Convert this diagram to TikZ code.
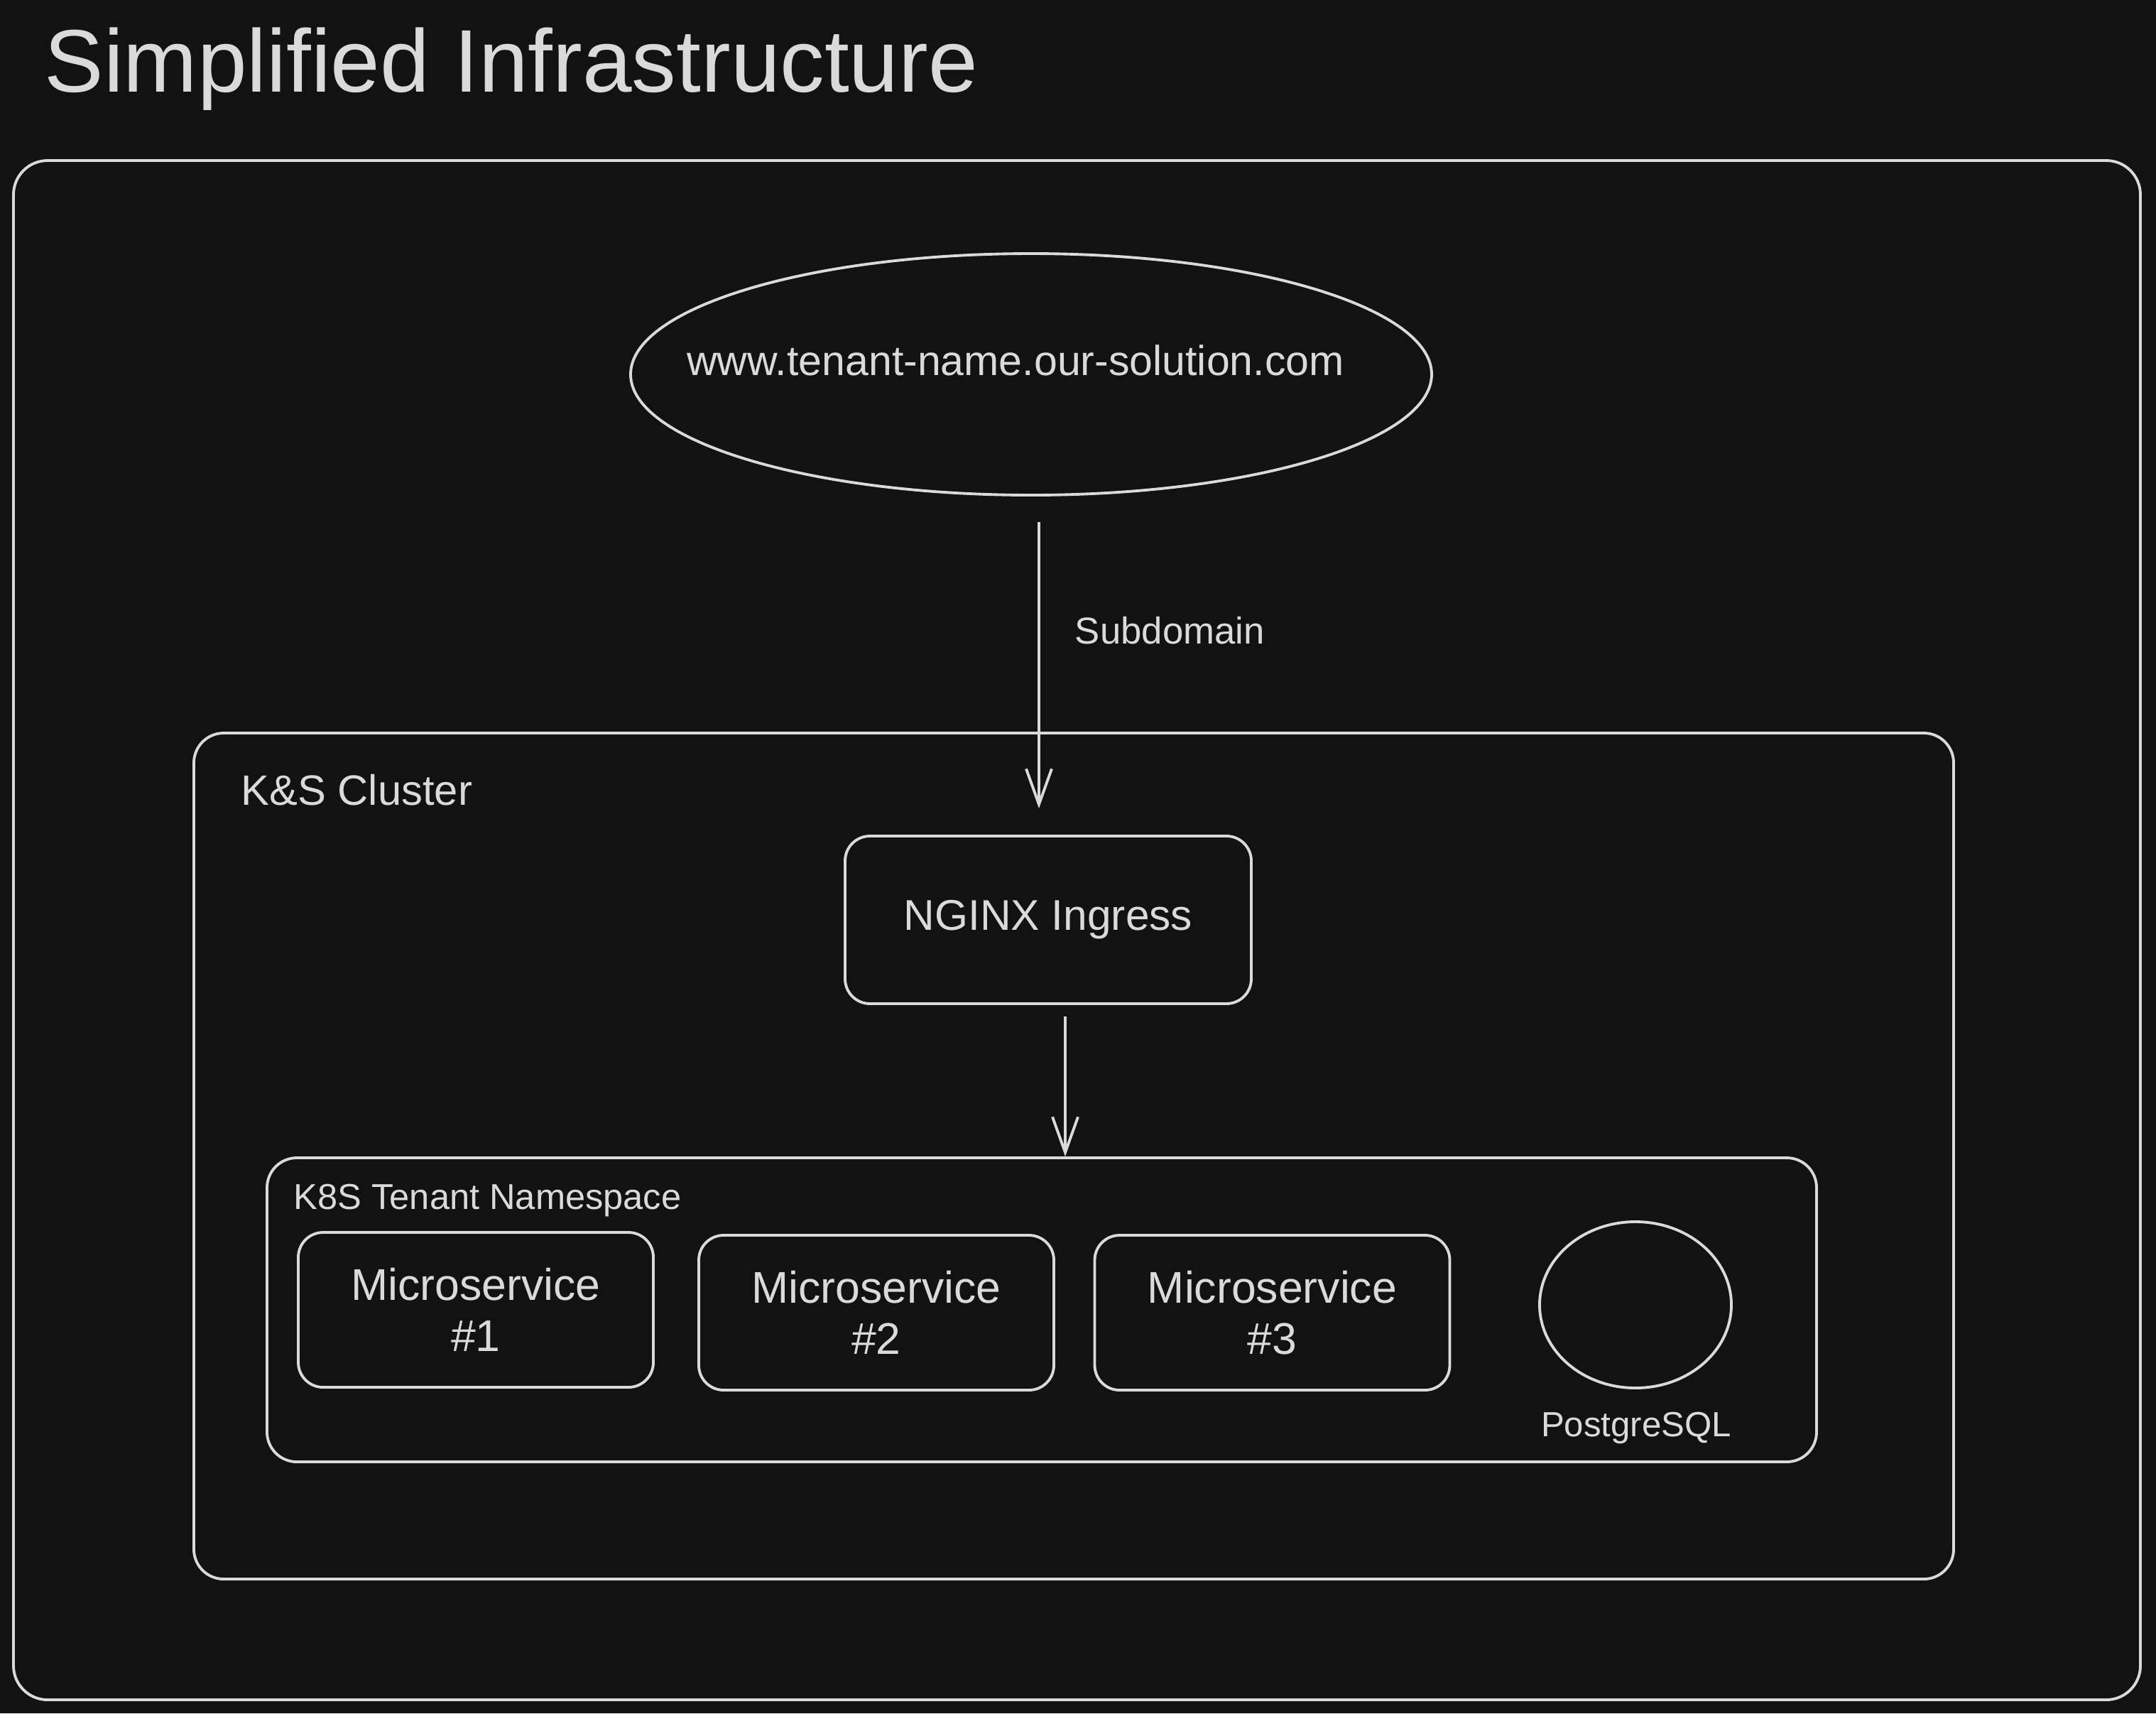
\documentclass[tikz,border=0pt]{standalone}
\usepackage{fontspec}
\setmainfont{Liberation Sans}
\usetikzlibrary{shapes.geometric,arrows.meta}

\definecolor{bgdark}{RGB}{18,18,18}
\definecolor{inkgray}{RGB}{218,218,218}

\tikzset{
    ink/.style={draw=inkgray, line width=1.1pt},
    roundbox/.style={ink, rounded corners=#1, inner sep=0pt},
    roundbox/.default=0.35cm,
    caption/.style={text=inkgray, inner sep=0pt},
    arr/.style={ink, -{Straight Barb[length=5mm,width=3.6mm,line width=1.1pt]}}
}

\begin{document}
\begin{tikzpicture}
    \useasboundingbox[fill=bgdark] (0,0) rectangle (30.36,-24.12);

    \node[caption, anchor=west, font=\fontsize{35.6}{40}\selectfont] (title) at (0.62,-0.97) {Simplified Infrastructure};

    % frames
    \node[roundbox=0.48cm, minimum width=29.95cm, minimum height=21.67cm] (outer) at (15.165,-13.095) {};
    \node[roundbox=0.42cm, minimum width=24.78cm, minimum height=11.91cm] (cluster) at (15.12,-16.275) {};
    \node[caption, anchor=west, font=\fontsize{17}{20}\selectfont] (clusterlbl) at (3.39,-11.12) {K\&S Cluster};
    \node[roundbox=0.42cm, minimum width=21.82cm, minimum height=4.28cm] (namespace) at (14.67,-18.44) {};
    \node[caption, anchor=west, font=\fontsize{14.4}{17}\selectfont] (namespacelbl) at (4.13,-16.90) {K8S Tenant Namespace};

    % entry point
    \node[ellipse, ink, minimum width=11.28cm, minimum height=3.40cm, inner sep=0pt] (url) at (14.52,-5.27) {};
    \node[caption, font=\fontsize{16.8}{19}\selectfont] (urltext) at (14.30,-5.07) {www.tenant-name.our-solution.com};
    \node[roundbox, minimum width=5.72cm, minimum height=2.36cm, text=inkgray, font=\fontsize{17.2}{20}\selectfont] (nginx) at (14.76,-12.95) {NGINX Ingress};

    % services
    \foreach \i/\x/\y in {1/6.70/18.44, 2/12.34/18.48, 3/17.915/18.48}
        \node[roundbox, minimum width=5.0cm, minimum height=2.18cm, text=inkgray, align=center, font=\fontsize{17.8}{20.5}\selectfont] (ms\i) at (\x,-\y) {Microservice\\\#\i};

    \node[ellipse, ink, minimum width=2.70cm, minimum height=2.34cm] (db) at (23.03,-18.37) {};
    \node[caption, font=\fontsize{14}{17}\selectfont] (dblbl) at (23.04,-20.10) {PostgreSQL};

    % connectors
    \draw[arr] ([xshift=1.1mm,yshift=-3.6mm]url.south) -- ([xshift=1.1mm,yshift=3.7mm]url.south |- nginx.north)
        node[caption, pos=0.38, anchor=west, xshift=4.9mm, font=\fontsize{15}{18}\selectfont] (sub) {Subdomain};
    \draw[arr] ([xshift=2.4mm,yshift=-1.6mm]nginx.south) -- ([xshift=2.4mm]nginx.south |- namespace.north);
\end{tikzpicture}
\end{document}
